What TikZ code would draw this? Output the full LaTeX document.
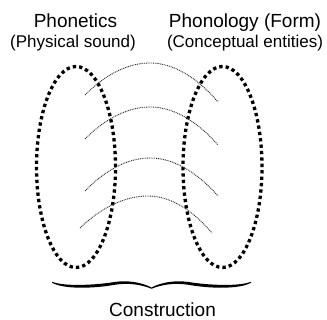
\documentclass[tikz,border=0pt]{standalone}
\usepackage{fontspec}
\setmainfont{Liberation Sans}
\usetikzlibrary{shapes.geometric}
\begin{document}
\begin{tikzpicture}[x=1pt,y=-1pt,
  bigtxt/.style={anchor=base,inner sep=0pt,font=\fontsize{19}{22}\selectfont},
  subtxt/.style={anchor=base,inner sep=0pt,font=\fontsize{17}{20}\selectfont},
  fieldbox/.style={ellipse,draw=black,line width=3.3pt,dash pattern=on 3.3pt off 3.1pt,
    minimum width=79pt,minimum height=201pt,inner sep=0pt,outer sep=0pt},
  linkline/.style={draw=black!85,line width=0.9pt,dash pattern=on 0.9pt off 0.9pt}]
\useasboundingbox (0,0) rectangle (327,320);
% labels
\node[bigtxt] (t1) at (75.5,28) {Phonetics};
\node[subtxt] (s1) at (73,48) {(Physical sound)};
\node[bigtxt] (t2) at (245,28) {Phonology (Form)};
\node[subtxt] (s2) at (245,48) {(Conceptual entities)};
\node[bigtxt] (c) at (162.5,317) {Construction};
% ellipses
\node[fieldbox] (phonetics) at (76,167) {};
\node[fieldbox] (phonology) at (222.5,167) {};
% dotted links
\coordinate (a1) at (85,95);  \coordinate (b1) at (218,102);
\coordinate (a2) at (85,139); \coordinate (b2) at (218,145);
\coordinate (a3) at (85,191); \coordinate (b3) at (218,196);
\coordinate (a4) at (80,228); \coordinate (b4) at (212,233);
\draw[linkline] (a1) parabola bend (150,63) (b1);
\draw[linkline] (a2) parabola bend (150,107) (b2);
\draw[linkline] (a3) parabola bend (150,158) (b3);
\draw[linkline] (a4) parabola bend (148,196) (b4);
% brace
\foreach \s in {1,-1}{
\begin{scope}[shift={(151.5,0)},xscale=\s]
\fill[black] (-99.5,281.8) .. controls (-87,286.6) and (-57,285.2) .. (-37,282.0)
  .. controls (-22,279.8) and (-9,283.0) .. (0,287.4)
  -- (0,288.8)
  .. controls (-9,285.0) and (-22,282.4) .. (-37,284.8)
  .. controls (-57,288.4) and (-87,289.6) .. (-99.5,282.8) -- cycle;
\end{scope}}
\end{tikzpicture}
\end{document}
